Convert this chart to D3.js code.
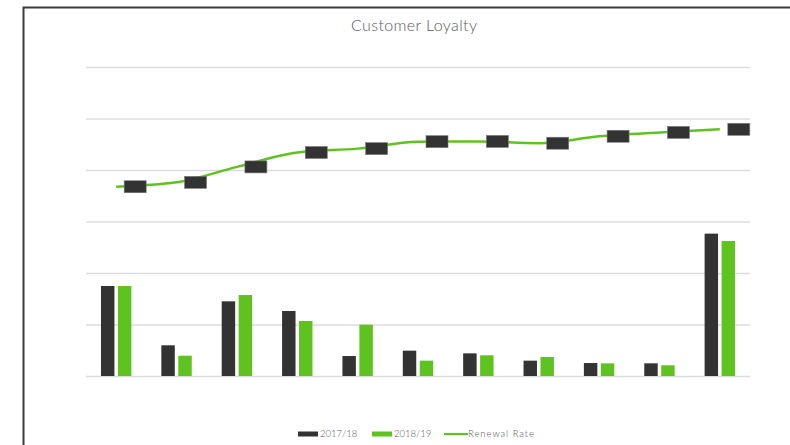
<!DOCTYPE html>
<html>
<head>
<meta charset="utf-8">
<script src="https://cdn.jsdelivr.net/npm/d3@7"></script>
<style>
  html, body { margin: 0; padding: 0; background: #fff; }
  svg { display: block; }
</style>
</head>
<body>
<svg id="chart" width="790" height="445"></svg>
<script>
// ---- data ----
const categories = ["C1","C2","C3","C4","C5","C6","C7","C8","C9","C10","C11"];
const seriesNames = ["2017/18", "2018/19"];
const values2017 = [87.4, 29.8, 72.5, 63.1, 19.4, 24.6, 22.0, 14.9, 12.6, 12.3, 138.2];
const values2018 = [87.4, 19.7, 78.6, 53.4, 49.8, 14.9, 20.1, 18.4, 12.3, 10.4, 131.1];
const renewalRate = [0.735, 0.752, 0.812, 0.868, 0.883, 0.910, 0.911, 0.904, 0.931, 0.946, 0.958];
const primaryTicks = [0, 50, 100, 150, 200, 250, 300];
const secondaryDomain = [0, 1.2];

// ---- layout ----
const svg = d3.select("#chart");
const W = 790, H = 445;
const plot = { left: 86, right: 750, top: 67, bottom: 376 };
const colors = { dark: "#333333", green: "#5FC31F", grid: "#DCDCDC", text: "#595959" };
const font = "Lato, 'Open Sans', sans-serif";

// frame
svg.append("path")
  .attr("d", `M23.5,${H + 2} L23.5,7.5 L${W + 2},7.5`)
  .attr("fill", "none").attr("stroke", "#3c3c3c").attr("stroke-width", 2);

// title
svg.append("text")
  .attr("x", 351).attr("y", 31)
  .attr("font-family", font)
  .attr("font-size", 16)
  .attr("font-weight", 300)
  .attr("fill", colors.text)
  .attr("textLength", 126)
  .attr("lengthAdjust", "spacing")
  .text("Customer Loyalty");

// scales
const x0 = d3.scaleBand().domain(categories).range([plot.left, plot.right]).padding(0);
const x1 = d3.scaleBand().domain(seriesNames)
  .range([x0.bandwidth() / 2 - 15.2, x0.bandwidth() / 2 + 15.2]).paddingInner(0.207);
const y = d3.scaleLinear().domain([0, 300]).range([plot.bottom, plot.top]);
const y2 = d3.scaleLinear().domain(secondaryDomain).range([plot.bottom, plot.top]);

// gridlines
const yAxis = d3.axisLeft(y).tickValues(primaryTicks)
  .tickSize(-(plot.right - plot.left)).tickFormat("");
const gAxis = svg.append("g").attr("transform", `translate(${plot.left},0)`).call(yAxis);
gAxis.select(".domain").remove();
gAxis.selectAll(".tick line").attr("stroke", colors.grid).attr("stroke-width", 1.3);

// bars
const rows = categories.map((c, i) => ({ cat: c, vals: [values2017[i], values2018[i]] }));
const barColors = [colors.dark, colors.green];
const g = svg.append("g");
rows.forEach(r => {
  r.vals.forEach((v, j) => {
    g.append("rect")
      .attr("x", x0(r.cat) + x1(seriesNames[j]))
      .attr("y", y(v))
      .attr("width", x1.bandwidth())
      .attr("height", y(0) - y(v))
      .attr("fill", barColors[j]);
  });
});

// renewal rate line
const pts = categories.map((c, i) => [x0(c) + x0.bandwidth() / 2, y2(renewalRate[i])]);
svg.append("path")
  .datum(pts)
  .attr("d", d3.line().curve(d3.curveMonotoneX))
  .attr("fill", "none")
  .attr("stroke", colors.green)
  .attr("stroke-width", 2.5);

// masked data labels (dark boxes to the right of each point)
svg.append("g").selectAll("rect").data(pts).join("rect")
  .attr("x", d => d[0] + 8)
  .attr("y", d => d[1] - 6)
  .attr("width", 22)
  .attr("height", 12)
  .attr("fill", "#333333")
  .attr("stroke", "#7a7a7a")
  .attr("stroke-width", 0.6);

// legend
const lg = svg.append("g").attr("font-family", font)
  .attr("font-size", 9.5).attr("font-weight", 300).attr("fill", colors.text);
const ly = 434;
const legendItems = [
  { name: seriesNames[0], type: "bar", color: colors.dark, x: 298 },
  { name: seriesNames[1], type: "bar", color: colors.green, x: 372 },
  { name: "Renewal Rate", type: "line", color: colors.green, x: 444, w: 66 }
];
legendItems.forEach(it => {
  if (it.type === "bar") {
    lg.append("rect").attr("x", it.x).attr("y", ly - 2.5).attr("width", 20).attr("height", 5).attr("fill", it.color);
    lg.append("text").attr("x", it.x + 22).attr("y", ly + 3.4).text(it.name);
  } else {
    lg.append("line").attr("x1", it.x).attr("x2", it.x + 24).attr("y1", ly).attr("y2", ly)
      .attr("stroke", it.color).attr("stroke-width", 2.2);
    lg.append("text").attr("x", it.x + 24).attr("y", ly + 3.4)
      .attr("textLength", it.w).attr("lengthAdjust", "spacing").text(it.name);
  }
});
</script>
</body>
</html>
